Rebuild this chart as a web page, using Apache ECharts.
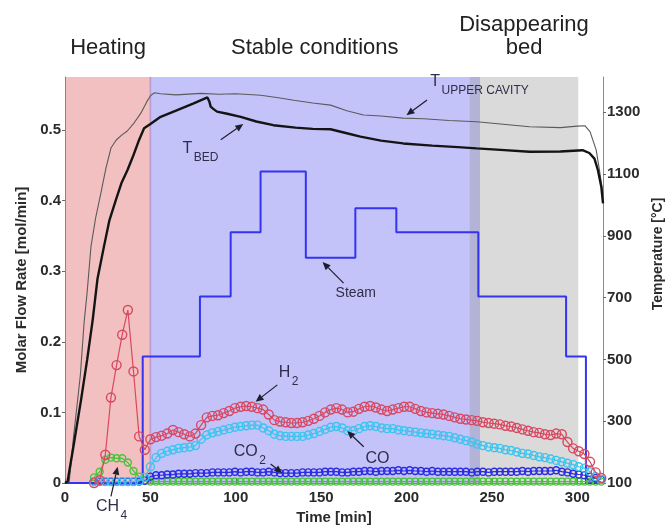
<!DOCTYPE html>
<html>
<head>
<meta charset="utf-8">
<script src="https://cdn.jsdelivr.net/npm/echarts@6/dist/echarts.min.js"></script>
<style>
  html, body { margin: 0; padding: 0; background: #ffffff; }
  #chart { width: 668px; height: 526px; }
</style>
</head>
<body>
<div id="chart"></div>
<script>
// ---- Gas analysis samples (time in min, molar flow in mol/min) ----
const sampleTimes = [
  17.0, 20.3, 23.6, 26.9, 30.2, 33.5, 36.8, 40.1, 43.4, 46.7,
  50.0, 53.3, 56.6, 59.9, 63.2, 66.5, 69.8, 73.1, 76.4, 79.7,
  83.0, 86.3, 89.6, 92.9, 96.2, 99.5, 102.8, 106.1, 109.4, 112.7,
  116.0, 119.3, 122.6, 125.9, 129.2, 132.5, 135.8, 139.1, 142.4, 145.7,
  149.0, 152.3, 155.6, 158.9, 162.2, 165.5, 168.8, 172.1, 175.4, 178.7,
  182.0, 185.3, 188.6, 191.9, 195.2, 198.5, 201.8, 205.1, 208.4, 211.7,
  215.0, 218.3, 221.6, 224.9, 228.2, 231.5, 234.8, 238.1, 241.4, 244.7,
  248.0, 251.3, 254.6, 257.9, 261.2, 264.5, 267.8, 271.1, 274.4, 277.7,
  281.0, 284.3, 287.6, 290.9, 294.2, 297.5, 300.8, 304.1, 307.4, 310.7,
  314.0
];
const h2Rate = [
  0.000, 0.004, 0.040, 0.121, 0.167, 0.210, 0.245, 0.158, 0.066, 0.047,
  0.062, 0.065, 0.067, 0.070, 0.075, 0.072, 0.069, 0.066, 0.070, 0.082,
  0.093, 0.095, 0.096, 0.099, 0.102, 0.106, 0.108, 0.109, 0.108, 0.106,
  0.104, 0.097, 0.089, 0.087, 0.086, 0.085, 0.085, 0.086, 0.088, 0.091,
  0.095, 0.100, 0.104, 0.106, 0.104, 0.100, 0.101, 0.105, 0.108, 0.109,
  0.107, 0.104, 0.102, 0.104, 0.106, 0.108, 0.108, 0.105, 0.102, 0.100,
  0.099, 0.098, 0.097, 0.095, 0.093, 0.091, 0.090, 0.089, 0.088, 0.086,
  0.085, 0.084, 0.083, 0.081, 0.080, 0.078, 0.076, 0.074, 0.072, 0.071,
  0.069, 0.068, 0.070, 0.069, 0.058, 0.049, 0.045, 0.041, 0.030, 0.015,
  0.007
];
const coRate = [
  0.002, 0.002, 0.002, 0.002, 0.002, 0.002, 0.002, 0.002, 0.003, 0.008,
  0.023, 0.036, 0.042, 0.045, 0.047, 0.049, 0.050, 0.051, 0.053, 0.062,
  0.068, 0.071, 0.073, 0.075, 0.077, 0.079, 0.080, 0.081, 0.082, 0.082,
  0.078, 0.074, 0.069, 0.067, 0.066, 0.066, 0.066, 0.066, 0.068, 0.070,
  0.073, 0.076, 0.079, 0.080, 0.078, 0.074, 0.074, 0.077, 0.080, 0.081,
  0.080, 0.078, 0.077, 0.077, 0.075, 0.074, 0.073, 0.072, 0.071, 0.070,
  0.069, 0.068, 0.067, 0.066, 0.064, 0.062, 0.060, 0.058, 0.055, 0.053,
  0.051, 0.050, 0.049, 0.047, 0.046, 0.044, 0.042, 0.041, 0.039, 0.037,
  0.036, 0.034, 0.032, 0.030, 0.028, 0.026, 0.023, 0.021, 0.016, 0.009,
  0.005
];
const co2Rate = [
  0.002, 0.002, 0.002, 0.002, 0.002, 0.002, 0.002, 0.002, 0.002, 0.003,
  0.009, 0.011, 0.011, 0.012, 0.012, 0.013, 0.013, 0.013, 0.014, 0.014,
  0.014, 0.015, 0.015, 0.015, 0.015, 0.016, 0.015, 0.016, 0.016, 0.015,
  0.015, 0.016, 0.015, 0.014, 0.014, 0.014, 0.014, 0.015, 0.015, 0.015,
  0.015, 0.016, 0.016, 0.016, 0.015, 0.015, 0.016, 0.016, 0.017, 0.017,
  0.016, 0.017, 0.017, 0.017, 0.018, 0.017, 0.018, 0.017, 0.017, 0.016,
  0.017, 0.016, 0.016, 0.016, 0.016, 0.016, 0.016, 0.015, 0.016, 0.016,
  0.015, 0.016, 0.016, 0.016, 0.016, 0.016, 0.017, 0.016, 0.017, 0.017,
  0.017, 0.017, 0.018, 0.016, 0.015, 0.013, 0.012, 0.011, 0.009, 0.007,
  0.005
];
const ch4Rate = [
  0.008, 0.016, 0.033, 0.036, 0.035, 0.035, 0.029, 0.017, 0.009, 0.004,
  0.002, 0.002, 0.002, 0.002, 0.002, 0.002, 0.002, 0.002, 0.002, 0.002,
  0.002, 0.002, 0.002, 0.002, 0.002, 0.002, 0.002, 0.002, 0.002, 0.002,
  0.002, 0.002, 0.002, 0.002, 0.002, 0.002, 0.002, 0.002, 0.002, 0.002,
  0.002, 0.002, 0.002, 0.002, 0.002, 0.002, 0.002, 0.002, 0.002, 0.002,
  0.002, 0.002, 0.002, 0.002, 0.002, 0.002, 0.002, 0.002, 0.002, 0.002,
  0.002, 0.002, 0.002, 0.002, 0.002, 0.002, 0.002, 0.002, 0.002, 0.002,
  0.002, 0.002, 0.002, 0.002, 0.002, 0.002, 0.002, 0.002, 0.002, 0.002,
  0.002, 0.002, 0.002, 0.002, 0.002, 0.002, 0.002, 0.002, 0.002, 0.002,
  0.002
];

// ---- Steam feed (step changes, mol/min) ----
const steamTimes = [0, 45.5, 79, 97, 114.5, 141, 170, 194, 242, 293.4, 305, 315];
const steamRate  = [0, 0.179, 0.264, 0.355, 0.441, 0.319, 0.389, 0.355, 0.264, 0.179, 0, 0];

// ---- Temperatures (°C) ----
const upperTimes = [0, 2.5, 5, 7.4, 9, 11.2, 13, 15.2, 18, 21, 24, 26.9, 30, 33, 36.6, 40, 44.4, 48, 50.3, 52.5,
  56, 65, 79.5, 90, 100, 114.6, 125, 134, 145, 155.5, 165, 174.8, 185, 198, 210, 225, 241, 255, 272,
  290, 300, 304.5, 307.4, 311, 313, 315];
const upperTemp = [100, 105, 250, 369, 450, 620, 720, 865, 960, 1038, 1120, 1184, 1210, 1225, 1240, 1262, 1297, 1335, 1355, 1363,
  1360, 1356, 1361, 1358, 1360, 1355, 1347, 1339, 1330, 1323, 1305, 1291, 1288, 1281, 1279, 1273, 1269, 1262, 1253,
  1250, 1255, 1256, 1237, 1178, 1110, 1035];
const bedTimes = [0, 1.5, 5, 9.4, 13, 16.2, 19, 22.8, 26, 29.8, 33, 36.6, 40, 43, 46.3, 50, 56, 65, 75, 83.4,
  84.5, 85.3, 87, 89, 95, 102.9, 112, 122, 135, 145, 155.5, 165, 173, 185, 198, 215, 230, 241, 255, 272,
  290, 303, 307, 310, 312, 314, 315];
const bedTemp = [100, 105, 220, 369, 500, 627, 760, 865, 950, 1016, 1070, 1113, 1160, 1205, 1248, 1262, 1285, 1305, 1328, 1348,
  1335, 1318, 1310, 1302, 1295, 1285, 1270, 1258, 1250, 1246, 1245, 1232, 1221, 1208, 1199, 1192, 1187, 1183, 1178, 1172,
  1173, 1177, 1168, 1150, 1113, 1059, 1005];

// ---- Process phases ----
const phaseNames = [['Heating'], ['Stable conditions'], ['Disappearing', 'bed']];
const phaseStart = [0, 49.5, 237];
const phaseEnd   = [50.5, 243, 300.5];
const phaseFill  = ['rgba(220,80,80,0.36)', 'rgba(90,90,240,0.36)', 'rgba(150,150,150,0.35)'];

// ---- Axis ticks ----
const timeTicks = [0, 50, 100, 150, 200, 250, 300];
const flowTicks = [0, 0.1, 0.2, 0.3, 0.4, 0.5];
const tempTicks = [100, 300, 500, 700, 900, 1100, 1300];

// ---- Curve labels with arrows (positions in time / flow units) ----
const labelNotes = [
  { main: 'T',     sub: 'BED',          at: [68.8, 0.473],   tail: [91.2, 0.486],  head: [104.4, 0.5085] },
  { main: 'T',     sub: 'UPPER CAVITY', at: [213.9, 0.568],  tail: [212.0, 0.5425], head: [199.9, 0.521] },
  { main: 'Steam', sub: '',             at: [158.4, 0.269],  tail: [163.1, 0.283], head: [150.8, 0.313] },
  { main: 'H',     sub: '2',            at: [125.1, 0.1565], tail: [124.3, 0.139], head: [111.6, 0.115] },
  { main: 'CO',    sub: '2',            at: [98.8, 0.0443],  tail: [120.4, 0.0269], head: [127.2, 0.0137] },
  { main: 'CO',    sub: '',             at: [175.9, 0.035],  tail: [174.9, 0.0514], head: [165.2, 0.0737] },
  { main: 'CH',    sub: '4',            at: [18.1, -0.0336], tail: [26.9, -0.019], head: [30.8, 0.023] }
];

const FONT = '"Liberation Sans", Arial, sans-serif';
const zip = (xs, ys) => xs.map((x, i) => [x, ys[i]]);

const chart = echarts.init(document.getElementById('chart'), null, { renderer: 'canvas' });

function gasSeries(name, values, color, size, z) {
  return {
    name, type: 'line', data: zip(sampleTimes, values),
    xAxisIndex: 0, yAxisIndex: 0,
    symbol: 'circle', symbolSize: size, showSymbol: true, showAllSymbol: true,
    lineStyle: { color, width: 1.2 },
    itemStyle: { color: 'rgba(0,0,0,0)', borderColor: color, borderWidth: 1.4 },
    emphasis: { disabled: true }, silent: true, animation: false, z
  };
}

const bandAreas = phaseNames.map((_, i) => [
  { xAxis: phaseStart[i], itemStyle: { color: phaseFill[i] } },
  { xAxis: phaseEnd[i] }
]);

const axisNameStyle = { fontFamily: FONT, fontSize: 15, fontWeight: 'bold', color: '#2b2b2b' };
const tickLabelStyle = { fontFamily: FONT, fontSize: 15, fontWeight: 'bold', color: '#2b2b2b' };

chart.setOption({
  animation: false,
  backgroundColor: '#ffffff',
  grid: { left: 65, right: 65, top: 77, bottom: 43, containLabel: false, outerBoundsMode: 'none' },
  xAxis: {
    type: 'value', min: 0, max: 315, interval: 50,
    name: 'Time [min]', nameLocation: 'middle', nameGap: 26, nameTextStyle: axisNameStyle,
    axisLine: { show: true, lineStyle: { color: '#8a8a8a', width: 1 } },
    axisTick: { show: true, inside: true, length: 4, customValues: timeTicks, lineStyle: { color: '#555' } },
    axisLabel: { customValues: timeTicks, margin: 7, ...tickLabelStyle },
    splitLine: { show: false }
  },
  yAxis: [
    {
      type: 'value', min: 0, max: 0.575, interval: 0.1, position: 'left',
      name: 'Molar Flow Rate [mol/min]', nameLocation: 'middle', nameRotate: 90, nameGap: 36,
      nameTextStyle: axisNameStyle,
      axisLine: { show: true, lineStyle: { color: '#8a8a8a', width: 1 } },
      axisTick: { show: true, length: 3, customValues: flowTicks, lineStyle: { color: '#666' } },
      axisLabel: {
        customValues: flowTicks, margin: 4, ...tickLabelStyle,
        formatter: v => (v === 0 ? '0' : v.toFixed(1))
      },
      splitLine: { show: false }
    },
    {
      type: 'value', min: 100, max: 1414, interval: 200, position: 'right',
      name: 'Temperature [°C]', nameLocation: 'middle', nameRotate: 90, nameGap: 46,
      nameTextStyle: { ...axisNameStyle, fontSize: 14, padding: [0, 0, 0, 52] },
      axisLine: { show: true, lineStyle: { color: '#8a8a8a', width: 1 } },
      axisTick: { show: true, length: 3, customValues: tempTicks, lineStyle: { color: '#666' } },
      axisLabel: { customValues: tempTicks, margin: 4, ...tickLabelStyle, formatter: v => String(v) },
      splitLine: { show: false }
    }
  ],
  series: [
    {
      name: 'phases', type: 'line', data: [], silent: true, z: 0,
      markArea: { silent: true, data: bandAreas }
    },
    {
      name: 'Steam', type: 'line', step: 'end', data: zip(steamTimes, steamRate),
      yAxisIndex: 0, showSymbol: false, lineStyle: { color: '#3434f0', width: 2 }, silent: true, z: 3
    },
    gasSeries('CH4', ch4Rate, '#4cc23c', 7, 4),
    gasSeries('CO2', co2Rate, '#2c2ce0', 7, 5),
    gasSeries('CO', coRate, '#3cc4ee', 8, 6),
    gasSeries('H2', h2Rate, '#d84860', 9, 7),
    {
      name: 'T upper cavity', type: 'line', data: zip(upperTimes, upperTemp), yAxisIndex: 1,
      showSymbol: false, lineStyle: { color: '#5a5a5a', width: 1.1 }, silent: true, z: 8
    },
    {
      name: 'T bed', type: 'line', data: zip(bedTimes, bedTemp), yAxisIndex: 1,
      showSymbol: false, lineStyle: { color: '#141414', width: 2.4 }, silent: true, z: 9
    }
  ]
});

// ---- Phase titles and curve labels ----
const toPx = p => chart.convertToPixel({ xAxisIndex: 0, yAxisIndex: 0 }, p);
const measure = (() => {
  const ctx = document.createElement('canvas').getContext('2d');
  return (text, size) => { ctx.font = size + 'px ' + FONT; return ctx.measureText(text).width; };
})();

const graphics = [];
phaseNames.forEach((lines, i) => {
  const cx = toPx([(phaseStart[i] + phaseEnd[i]) / 2, 0])[0];
  lines.forEach((line, j) => {
    graphics.push({
      type: 'text', x: cx, y: 48 - (lines.length - 1 - j) * 23, silent: true, z: 20,
      style: { text: line, font: '22px ' + FONT, fill: '#222222',
        align: 'center', verticalAlign: 'middle', textAlign: 'center', textVerticalAlign: 'middle' }
    });
  });
});

const noteColor = '#2e2e4a';
labelNotes.forEach(n => {
  const mainSize = n.main === 'Steam' ? 14 : 16;
  const p = toPx(n.at);
  graphics.push({
    type: 'text', x: p[0], y: p[1], silent: true, z: 20,
    style: { text: n.main, font: mainSize + 'px ' + FONT, fill: noteColor,
      align: 'left', verticalAlign: 'middle', textAlign: 'left', textVerticalAlign: 'middle' }
  });
  if (n.sub) {
    graphics.push({
      type: 'text', x: p[0] + measure(n.main, mainSize) + 1.5, y: p[1] + 9, silent: true, z: 20,
      style: { text: n.sub, font: '12px ' + FONT, fill: noteColor,
        align: 'left', verticalAlign: 'middle', textAlign: 'left', textVerticalAlign: 'middle' }
    });
  }
  const a = toPx(n.tail), b = toPx(n.head);
  const dx = b[0] - a[0], dy = b[1] - a[1];
  const len = Math.hypot(dx, dy), ux = dx / len, uy = dy / len;
  const hl = 8, hw = 3.5;
  const base = [b[0] - ux * hl, b[1] - uy * hl];
  graphics.push({
    type: 'line', silent: true, z: 20,
    shape: { x1: a[0], y1: a[1], x2: base[0], y2: base[1] },
    style: { stroke: '#1e1e2e', lineWidth: 1.2 }
  });
  graphics.push({
    type: 'polygon', silent: true, z: 20,
    shape: { points: [b, [base[0] - uy * hw, base[1] + ux * hw], [base[0] + uy * hw, base[1] - ux * hw]] },
    style: { fill: '#1e1e2e' }
  });
});

chart.setOption({ graphic: graphics });
</script>
</body>
</html>
